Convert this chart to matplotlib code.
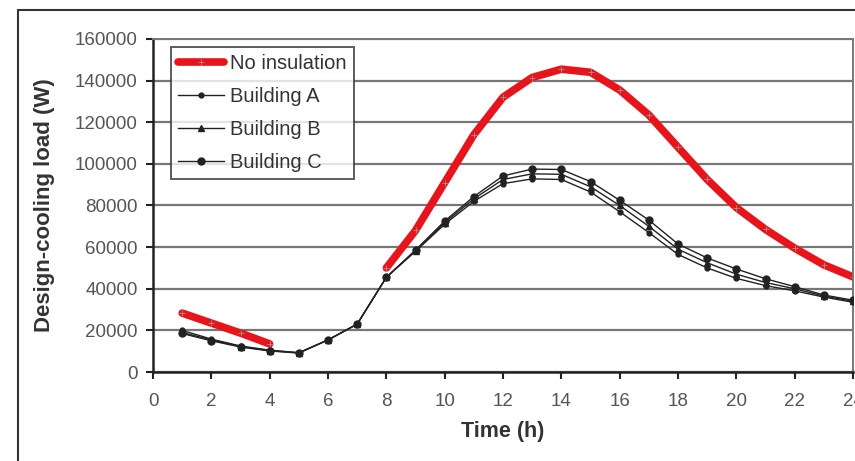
import numpy as np
import matplotlib.pyplot as plt
from matplotlib.patches import Rectangle

# --- data ---
hours = list(range(1, 25))

no_insulation = [28300, 23500, 18700, 13500, np.nan, np.nan, np.nan,
                 50000, 68000, 91000, 114000, 132000, 141500, 145500,
                 144000, 135500, 123500, 108000, 92500, 79000, 68500,
                 59500, 51500, 45700]

building_a = [20000, 15800, 12500, 10500, 9300, 15400, 23000,
              45500, 58000, 71000, 82000, 90500, 92800, 92500,
              86500, 77000, 67000, 56500, 50000, 45000, 41500,
              39000, 36000, 33500]
building_b = [19000, 15400, 12200, 10300, 9200, 15400, 23000,
              45500, 58300, 71800, 83200, 92500, 95200, 95000,
              89000, 80000, 70000, 59000, 52500, 47000, 43000,
              40000, 36500, 34000]
building_c = [18500, 15000, 12000, 10100, 9100, 15400, 23000,
              45500, 58600, 72500, 84300, 94200, 97500, 97300,
              91500, 82500, 73000, 61500, 54800, 49500, 44800,
              41000, 37000, 34500]

y_ticks = list(range(0, 160001, 20000))
x_ticks = list(range(0, 25, 2))

plt.rcParams["font.family"] = ["Liberation Sans", "DejaVu Sans"]

fig = plt.figure(figsize=(8.55, 4.61), dpi=100)

# outer frame of the original figure (runs off the right / bottom edge)
fig.patches.append(Rectangle((18 / 855, -0.05), 1.0, 1 - 10 / 461 + 0.05,
                             transform=fig.transFigure, fill=False,
                             edgecolor="#333333", linewidth=1.5))

ax = fig.add_axes([153 / 855, 1 - 372 / 461, 700 / 855, 333 / 461])

ax.plot(hours, no_insulation, color="#e8141c", linewidth=5.5,
        solid_capstyle="round", marker="+", markersize=4,
        markeredgecolor="#999999", markeredgewidth=0.6,
        label="No insulation", zorder=2)
ax.plot(hours, building_a, color="#222222", linewidth=1.0, marker="o",
        markersize=3.5, label="Building A", zorder=3)
ax.plot(hours, building_b, color="#222222", linewidth=1.0, marker="^",
        markersize=4, label="Building B", zorder=3)
ax.plot(hours, building_c, color="#222222", linewidth=1.0, marker="o",
        markersize=5, label="Building C", zorder=3)

ax.set_xlim(0, 24)
ax.set_ylim(0, 160000)
ax.set_xticks(x_ticks)
ax.set_yticks(y_ticks)
ax.grid(axis="y", color="#777777", linewidth=1.6)
ax.set_axisbelow(True)

for side in ["top", "right"]:
    ax.spines[side].set_color("#777777")
    ax.spines[side].set_linewidth(1.4)
for side in ["left", "bottom"]:
    ax.spines[side].set_color("#222222")
    ax.spines[side].set_linewidth(1.8)

ax.tick_params(axis="both", direction="out", length=5, width=1.5,
               color="#222222", labelcolor="#555555", labelsize=13.5)
ax.tick_params(axis="x", pad=10)
ax.tick_params(axis="y", pad=6)

ax.set_xlabel("Time (h)", fontsize=15.5, fontweight="bold", color="#333333",
              labelpad=8)
ax.set_ylabel("Design-cooling load (W)", fontsize=16, fontweight="bold",
              color="#333333", labelpad=14)

leg = ax.legend(loc="upper left", bbox_to_anchor=(0.0257, 0.976),
                borderaxespad=0, fontsize=14.5, frameon=True, fancybox=False,
                handlelength=2.3, handletextpad=0.3, borderpad=0.35,
                labelspacing=0.7)
leg.get_frame().set_edgecolor("#333333")
leg.get_frame().set_linewidth(1.4)
for t in leg.get_texts():
    t.set_color("#333333")

fig.savefig("out.png", dpi=100)
